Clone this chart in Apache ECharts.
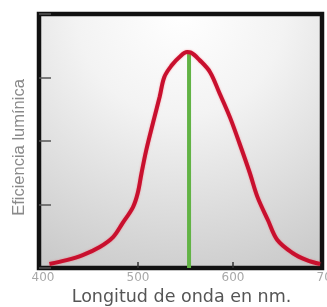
<!DOCTYPE html>
<html>
<head>
<meta charset="utf-8">
<script src="https://cdn.jsdelivr.net/npm/echarts@6/dist/echarts.min.js"></script>
<style>
    html, body { margin: 0; padding: 0; background: #fff; }
    #chart { width: 327px; height: 307px; }
</style>
</head>
<body>
<div id="chart"></div>
<script>
// Luminous efficiency curve (wavelength nm, relative value)
const wavelengths = [407, 425, 442, 460, 474, 484, 495, 500, 504, 509, 516, 523, 528, 536, 544, 552, 556, 565, 576, 586, 597, 607, 618, 626, 637, 647, 663, 678, 692]
const efficiency = [0.016, 0.031, 0.051, 0.083, 0.122, 0.177, 0.240, 0.295, 0.374, 0.465, 0.571, 0.673, 0.752, 0.799, 0.831, 0.850, 0.848, 0.819, 0.772, 0.689, 0.594, 0.492, 0.374, 0.280, 0.189, 0.110, 0.059, 0.031, 0.016]
const peakWavelength = 554
const peakValue = 0.852
const xInnerTicks = [500, 600]

const chart = echarts.init(document.getElementById('chart'))

const curve = wavelengths.map((w, i) => [w, efficiency[i]])

chart.setOption({
    animation: false,
    grid: [
        {
            // framed plot box
            left: 39, top: 14, width: 283, height: 254,
            outerBoundsMode: 'none',
            show: true,
            borderColor: '#111',
            borderWidth: 4.5,
            backgroundColor: new echarts.graphic.RadialGradient(0.5, 0, 1.15, [
                { offset: 0, color: '#ffffff' },
                { offset: 0.35, color: '#f3f3f3' },
                { offset: 1, color: '#c6c6c6' }
            ])
        },
        {
            // tick label placement (400 .. 700)
            left: 43, top: 14, width: 285, height: 254,
            outerBoundsMode: 'none'
        }
    ],
    xAxis: [
        {
            type: 'value', gridIndex: 0, min: 396, max: 694,
            axisLine: { show: false },
            axisLabel: { show: false },
            splitLine: { show: false },
            axisTick: {
                show: true, inside: true, length: 6,
                customValues: xInnerTicks,
                lineStyle: { color: '#333', width: 1.5 }
            }
        },
        {
            type: 'value', gridIndex: 1, min: 400, max: 700, interval: 100,
            axisLine: { show: false },
            axisTick: { show: false },
            splitLine: { show: false },
            axisLabel: {
                show: true, margin: 4, color: '#a8a8a8',
                fontFamily: 'DejaVu Sans', fontSize: 12,
                showMinLabel: true, showMaxLabel: true
            },
            name: 'Longitud de onda en nm.',
            nameLocation: 'middle',
            nameGap: 14,
            nameTextStyle: {
                color: '#555', fontFamily: 'DejaVu Sans', fontSize: 17.5,
                padding: [0, 8, 0, 0]
            }
        }
    ],
    yAxis: [
        {
            type: 'value', gridIndex: 0, min: 0, max: 1, interval: 0.25,
            axisLine: { show: false },
            axisLabel: { show: false },
            splitLine: { show: false },
            axisTick: {
                show: true, inside: true, length: 12,
                lineStyle: { color: '#555', width: 1.5 }
            },
            name: 'Eficiencia lumínica',
            nameLocation: 'middle',
            nameGap: 11,
            nameRotate: 90,
            nameTextStyle: {
                color: '#8a8a8a', fontFamily: 'Liberation Sans', fontSize: 16.5,
                padding: [0, 13, 0, 0]
            }
        },
        {
            type: 'value', gridIndex: 1, min: 0, max: 1, show: false
        }
    ],
    series: [
        {
            type: 'line',
            xAxisIndex: 0, yAxisIndex: 0,
            data: [[peakWavelength, 0], [peakWavelength, peakValue]],
            symbol: 'none',
            lineStyle: { color: '#62b345', width: 4 },
            z: 2
        },
        {
            type: 'line',
            xAxisIndex: 0, yAxisIndex: 0,
            data: curve,
            smooth: 0.35,
            symbol: 'none',
            lineStyle: {
                color: '#c8102e', width: 4,
                shadowColor: 'rgba(255,60,80,0.5)', shadowBlur: 2
            },
            z: 3
        }
    ]
})
</script>
</body>
</html>
